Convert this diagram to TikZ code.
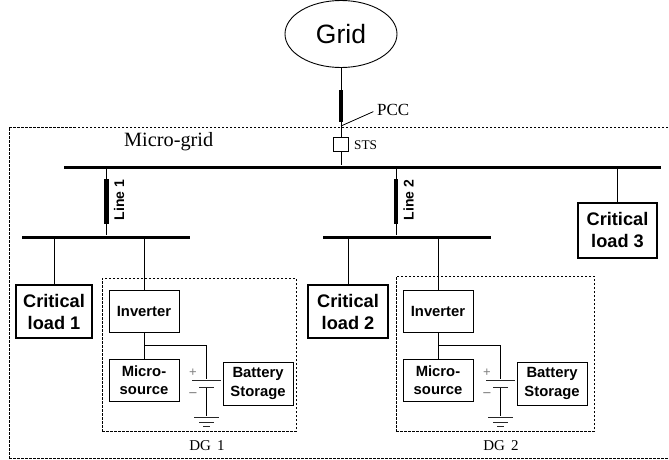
\documentclass[tikz,border=0pt]{standalone}
\usepackage{fontspec}
\setmainfont{Liberation Serif}
\setsansfont{Liberation Sans}
\usetikzlibrary{shapes.geometric}
\tikzset{
	box/.style={draw,line width=1pt,inner sep=0pt,font=\sffamily\bfseries\fontsize{14.8}{18.5}\selectfont,align=center},
	loadbox/.style={box,line width=1.4pt,minimum width=76pt,minimum height=53pt,font=\sffamily\bfseries\fontsize{18.2}{22}\selectfont},
	dgbox/.style={box,minimum width=70pt,minimum height=42pt},
	bus/.style={fill=black,inner sep=0pt,minimum height=3pt},
	bar/.style={fill=black,inner sep=0pt,minimum width=4.5pt},
	serifl/.style={inner sep=0pt,font=\fontsize{15}{17}\selectfont},
	wire/.style={line width=0.8pt},
	plate/.style={inner sep=0pt,minimum height=1pt,fill=black!85},
	dashbox/.style={draw,dashed,line width=0.7pt,dash pattern=on 2.5pt off 1.5pt,inner sep=0pt}
}
\begin{document}
\begin{tikzpicture}[x=1pt,y=-1pt]
	\useasboundingbox (0,0) rectangle (669,460);
	% Dashed frames
	\node[dashbox,minimum width=666pt,minimum height=331pt] (micro) at (342,292.5) {};
	\node[dashbox,minimum width=194pt,minimum height=153pt] (dgA) at (199,354.5) {};
	\node[dashbox,minimum width=198pt,minimum height=155pt] (dgB) at (495,353.5) {};
	% Grid
	\node[draw,ellipse,line width=0.9pt,minimum width=112pt,minimum height=67pt,inner sep=0pt,font=\sffamily\fontsize{26.5}{30}\selectfont] (grid) at (341,34) {Grid};
	\node[bar,minimum height=32pt] (pccbar) at (341,106) {};
	\node[draw,line width=0.7pt,minimum size=14.5pt,inner sep=0pt] (sts) at (341,144.5) {};
	\node[serifl,anchor=west,font=\fontsize{13.3}{15}\selectfont] (stslab) at (354,145) {STS};
	\node[serifl,anchor=west,font=\fontsize{17}{20}\selectfont] (pcc) at (377,110) {PCC};
	\node[serifl,anchor=west,font=\fontsize{20.3}{22}\selectfont] (microlab) at (124,142) {Micro-grid};
	\coordinate (pccpt) at (341,126);
	% Buses
	\node[bus,minimum width=597pt] (busM) at (362.5,167) {};
	\node[bus,minimum width=168pt] (busA) at (106,237) {};
	\node[bus,minimum width=168pt] (busB) at (407,237) {};
	\draw[wire] (grid.south) -- (pccbar.north);
	\draw[wire] (pccbar.south) -- (sts.north);
	\draw[wire] (sts.south) -- (sts.south |- busM.north);
	\draw[wire,shorten >=4pt] (pccpt) -- (pcc.west);
	% Feeders
	\foreach \nm/\xx/\lab/\bs in {lineA/106.5/Line 1/busA,lineB/396/Line 2/busB}{
		\node[bar,minimum height=45pt] (\nm) at (\xx,201.5) {};
		\node[rotate=90,inner sep=0pt,font=\sffamily\bfseries\fontsize{14}{16}\selectfont] (\nm lab) at (\xx+12.5,200) {\lab};
		\draw[wire] (\nm.north) -- (\nm.north |- busM.south);
		\draw[wire] (\nm.south) -- (\nm.south |- \bs.north);
	}
	% Loads
	\node[loadbox] (loadA) at (54,311.5) {Critical\\load 1};
	\node[loadbox,minimum width=80pt] (loadB) at (348,311.5) {Critical\\load 2};
	\node[loadbox,minimum width=79pt,minimum height=55pt] (loadC) at (617.5,230.5) {Critical\\load 3};
	\draw[wire] (loadA.north) -- (loadA.north |- busA.south);
	\draw[wire] (loadB.north) -- (loadB.north |- busB.south);
	\draw[wire] (loadC.north) -- (loadC.north |- busM.south);
	% DG units
	\foreach \nm/\xx/\bs/\tx in {A/144/busA/DG\, 1,B/438/busB/DG\, 2}{
		\node[dgbox] (inv\nm) at (\xx,311) {Inverter};
		\node[dgbox] (src\nm) at (\xx,380) {Micro-\\source};
		\node[dgbox,minimum height=43pt] (bat\nm) at (\xx+114,383.5) {Battery\\Storage};
		\node[plate,minimum width=29pt] (pos\nm) at (\xx+62,380) {};
		\node[plate,minimum width=15pt] (neg\nm) at (\xx+62,387) {};
		\node[plate,minimum width=25pt] (gndA\nm) at (\xx+62,417) {};
		\node[plate,minimum width=15pt] (gndB\nm) at (\xx+62,422) {};
		\node[plate,minimum width=7pt] (gndC\nm) at (\xx+62,426) {};
		\node[inner sep=0pt,text=black!50,font=\sffamily\fontsize{13}{13}\selectfont] (plus\nm) at (\xx+49,373) {+};
		\node[inner sep=0pt,text=black!60,font=\sffamily\fontsize{13}{13}\selectfont] (minus\nm) at (\xx+49,395) {--};
		\node[serifl] (dglab\nm) at (\xx+63,446) {\tx};
		\coordinate (tee\nm) at (\xx,345.5);
		\draw[wire] (inv\nm.north) -- (inv\nm.north |- \bs.south);
		\draw[wire] (inv\nm.south) -- (src\nm.north);
		\draw[wire] (tee\nm) -| (pos\nm.north);
		\draw[wire] (neg\nm.south) -- (gndA\nm.north);
	}
\end{tikzpicture}
\end{document}
